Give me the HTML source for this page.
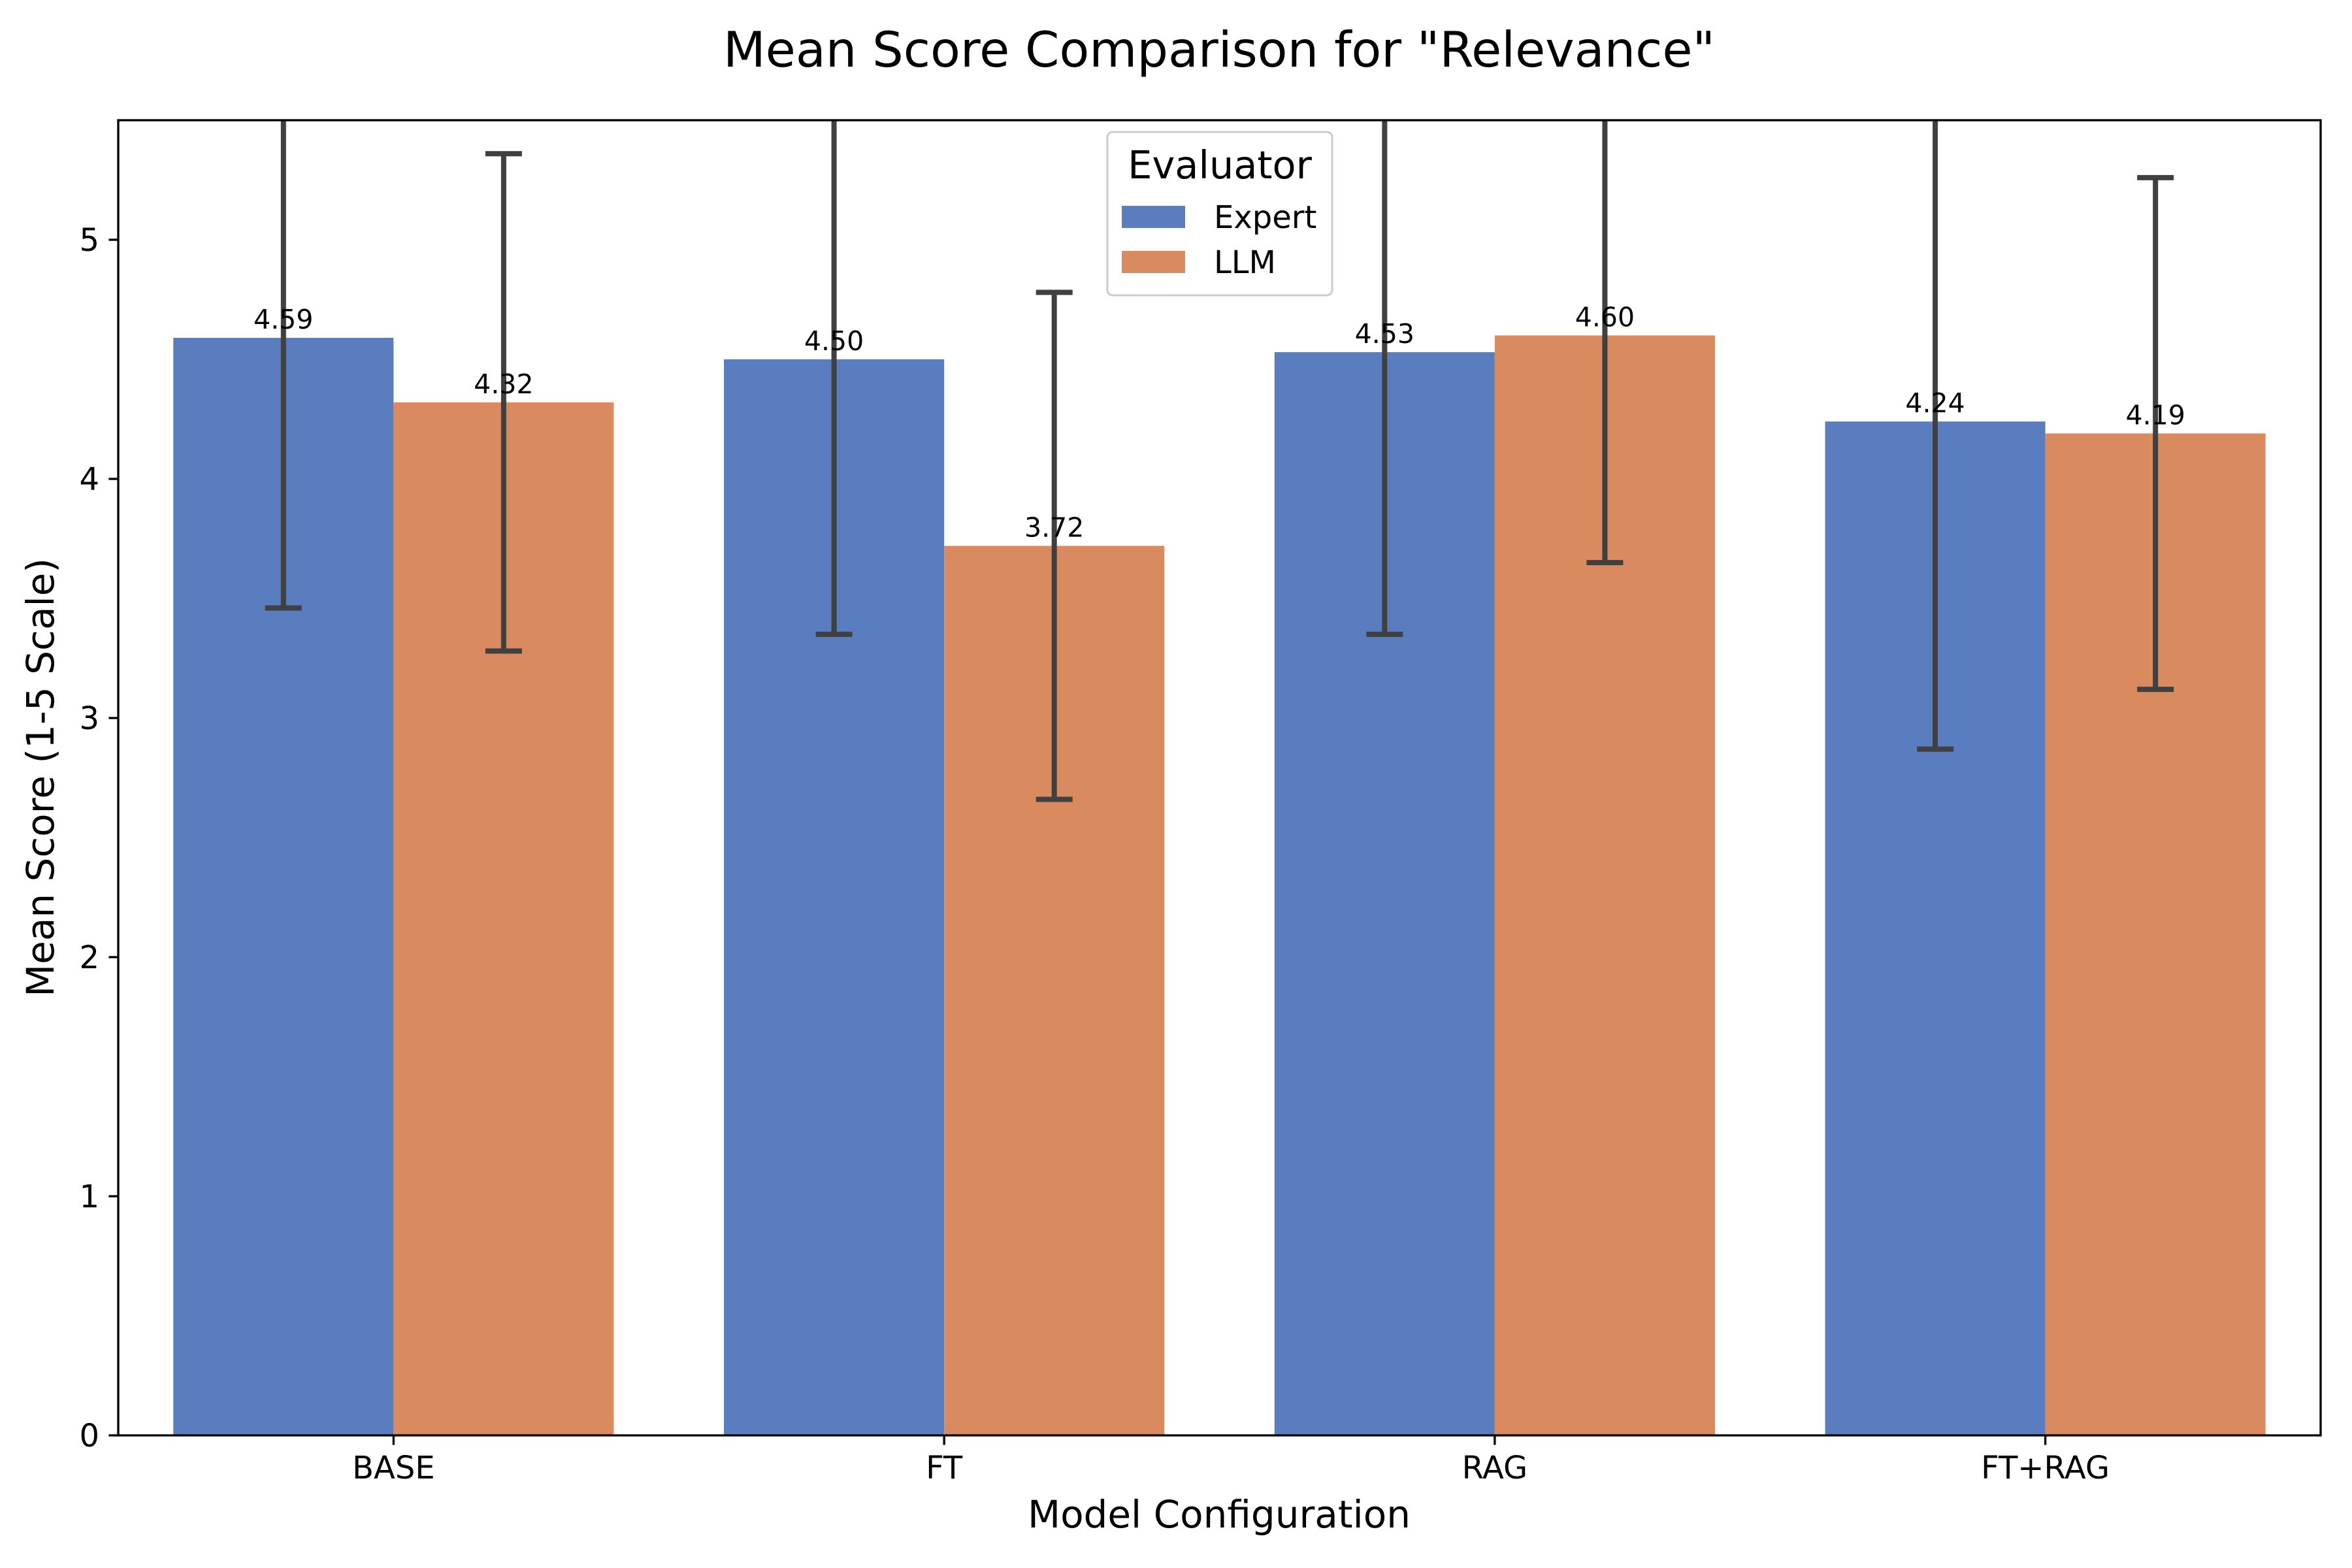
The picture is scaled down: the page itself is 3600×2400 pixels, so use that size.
<!DOCTYPE html>
<html><head><meta charset="utf-8"><style>
html,body{margin:0;padding:0;background:#fff;}
svg{display:block;font-family:"DejaVu Sans","Liberation Sans",sans-serif;}
</style></head><body>
<svg id="chart" width="3600" height="2400" viewBox="0 0 3600 2400" xmlns="http://www.w3.org/2000/svg">
<rect width="3600" height="2400" fill="#fff"/>
<defs><clipPath id="plotclip"><rect x="181" y="184" width="3371" height="2013"/></clipPath></defs>
<g id="bars" clip-path="url(#plotclip)"></g>
<g id="errs" clip-path="url(#plotclip)"></g>
<g id="labels"></g>
<g id="axes"></g>
<text x="1866" y="102" font-size="75" text-anchor="middle">Mean Score Comparison for "Relevance"</text>
<text x="1866" y="2338" font-size="58" text-anchor="middle">Model Configuration</text>
<text transform="translate(82,1190) rotate(-90)" font-size="58" text-anchor="middle">Mean Score (1-5 Scale)</text>
<g>
<rect x="1695" y="202" width="344" height="250" rx="8" fill="#fff" fill-opacity="0.8" stroke="#cccccc" stroke-width="3"/>
<text x="1867" y="273" font-size="59" text-anchor="middle">Evaluator</text>
<g><rect x="1717" y="315" width="97" height="34" fill="#5a7dbf"/><text x="1858" y="349" font-size="48">Expert</text></g>
<g><rect x="1717" y="384" width="97" height="34" fill="#d98b5f"/><text x="1858" y="418" font-size="48">LLM</text></g>
</g>
</svg>
<script>
const categories = ["BASE","FT","RAG","FT+RAG"];
const expertMeans = [4.59,4.50,4.53,4.24];
const llmMeans = [4.32,3.72,4.60,4.19];
const expertErr = [1.13,1.15,1.18,1.37];
const llmErr = [1.04,1.06,0.95,1.07];
const yTicks = [0,1,2,3,4,5];

const NS="http://www.w3.org/2000/svg";
const L=181,R=3552,T=184,B=2197;
const xs=i=>L+(i+0.5)*(R-L)/4;
const ys=v=>B-v*(B-T)/5.5;
const bw=0.4*(R-L)/4;
function mk(tag,attrs,parent){const e=document.createElementNS(NS,tag);for(const k in attrs)e.setAttribute(k,attrs[k]);parent.appendChild(e);return e;}
const gb=document.getElementById('bars'),ge=document.getElementById('errs'),gl=document.getElementById('labels'),ga=document.getElementById('axes');
const series=[{m:expertMeans,e:expertErr,c:"#5a7dbf",off:-1,n:"expert"},{m:llmMeans,e:llmErr,c:"#d98b5f",off:0,n:"llm"}];
series.forEach(s=>{
 categories.forEach((cat,i)=>{
  const x0=xs(i)+s.off*bw, cx=x0+bw/2, v=s.m[i];
  const r=mk('rect',{x:x0,y:ys(v),width:bw,height:B-ys(v),fill:s.c},gb);
  
  
  const lo=ys(v-s.e[i]),hi=ys(v+s.e[i]);
  const g=mk('g',{stroke:"#404040","stroke-width":8},ge);
  
  
  mk('line',{x1:cx,x2:cx,y1:lo,y2:hi},g);
  mk('line',{x1:cx-28,x2:cx+28,y1:lo,y2:lo},g);
  mk('line',{x1:cx-28,x2:cx+28,y1:hi,y2:hi},g);
  const t=mk('text',{x:cx,y:ys(v)-14,"font-size":41,"text-anchor":"middle"},gl);
  
  
  t.textContent=v.toFixed(2);
 });
});
const frame=mk('rect',{x:L,y:T,width:R-L,height:B-T,fill:"none",stroke:"#000","stroke-width":3.3},ga);


yTicks.forEach(v=>{
 const y=ys(v);
 const tk=mk('line',{x1:L-14.6,x2:L,y1:y,y2:y,stroke:"#000","stroke-width":3.3},ga);
 
 
 const t=mk('text',{x:L-29,y:y+17,"font-size":48,"text-anchor":"end"},ga);
 
 
 t.textContent=v;
});
categories.forEach((c,i)=>{
 const x=xs(i);
 const tk=mk('line',{x1:x,x2:x,y1:B,y2:B+14.6,stroke:"#000","stroke-width":3.3},ga);
 
 
 const t=mk('text',{x:x,y:B+66,"font-size":48,"text-anchor":"middle"},ga);
 
 
 t.textContent=c;
});
</script>
</body></html>
